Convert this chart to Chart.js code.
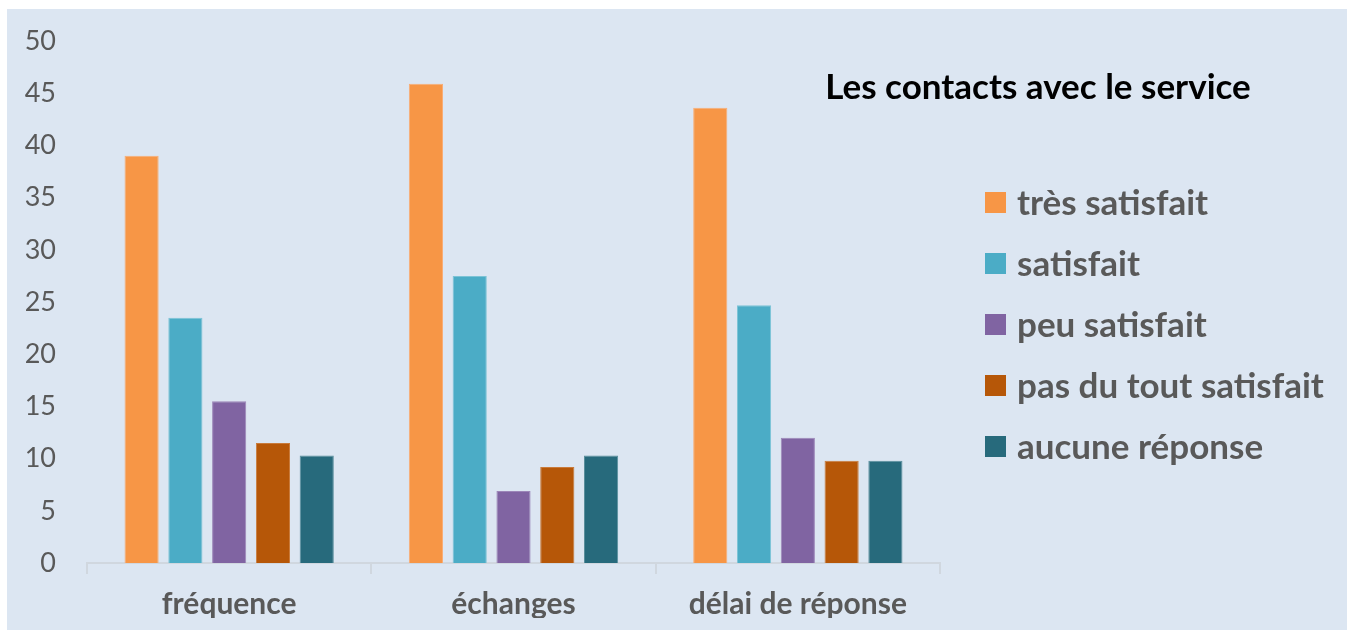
<!DOCTYPE html>
<html>
<head>
<meta charset="utf-8">
<script src="https://cdn.jsdelivr.net/npm/chart.js@4.4.0/dist/chart.umd.min.js"></script>
<style>
  html, body { margin: 0; padding: 0; background: #ffffff; }
  #panel {
    position: absolute; left: 7px; top: 9px;
    width: 1340px; height: 621px;
    background: #dce6f2;
  }
  canvas { display: block; }
</style>
</head>
<body>
<div id="panel"><canvas id="chart" width="1340" height="621"></canvas></div>
<script>
// données
const categories = ['fréquence', 'échanges', 'délai de réponse'];
const seriesNames = ['très satisfait', 'satisfait', 'peu satisfait', 'pas du tout satisfait', 'aucune réponse'];
const tresSatisfait = [39.0, 45.9, 43.6];
const satisfait = [23.5, 27.5, 24.7];
const peuSatisfait = [15.5, 6.9, 12.0];
const pasDuTout = [11.5, 9.2, 9.8];
const aucuneReponse = [10.3, 10.3, 9.8];
const yTicks = [0, 5, 10, 15, 20, 25, 30, 35, 40, 45, 50];
const chartTitle = 'Les contacts avec le service';

const colors = ['#f79646', '#4bacc6', '#8064a2', '#b65708', '#276a7c'];
const edges = ['#f9ad75', '#7cc3d6', '#9c86b8', '#c97a3a', '#5a8f9d'];
const values = [tresSatisfait, satisfait, peuSatisfait, pasDuTout, aucuneReponse];

const FONT = 'Lato, "Open Sans", sans-serif';

// titre + légende dessinés à droite
const sideLegend = {
  id: 'sideLegend',
  afterDraw(chart) {
    const ctx = chart.ctx;
    ctx.save();
    ctx.fillStyle = '#000000';
    ctx.font = 'bold 35px ' + FONT;
    ctx.textAlign = 'center';
    ctx.textBaseline = 'middle';
    ctx.fillText(chartTitle, 1031, 79);

    ctx.font = 'bold 35px ' + FONT;
    ctx.textAlign = 'left';
    chart.data.datasets.forEach((ds, i) => {
      const y = 193.5 + i * 61;
      ctx.fillStyle = ds.backgroundColor;
      ctx.fillRect(978, y - 10.5, 21, 21);
      ctx.fillStyle = '#595959';
      ctx.fillText(ds.label, 1010, y + 1);
    });
    ctx.restore();
  }
};

new Chart(document.getElementById('chart'), {
  type: 'bar',
  data: {
    labels: categories,
    datasets: seriesNames.map((name, i) => ({
      label: name,
      data: values[i],
      backgroundColor: colors[i],
      borderColor: edges[i],
      borderWidth: 1,
      categoryPercentage: 0.77,
      barPercentage: 0.78
    }))
  },
  options: {
    responsive: false,
    animation: false,
    layout: { padding: { left: 0, right: 407, top: 32, bottom: 12 } },
    plugins: {
      legend: { display: false },
      tooltip: { enabled: false }
    },
    scales: {
      x: {
        afterFit(scale) { scale.height = 55; },
        grid: {
          drawOnChartArea: false,
          drawTicks: true,
          tickLength: 11,
          color: '#d0d7df',
          lineWidth: 2
        },
        border: { display: true, color: '#d0d7df', width: 2 },
        ticks: {
          color: '#595959',
          font: { family: FONT, size: 30, weight: 'bold' },
          padding: 12
        }
      },
      y: {
        min: 0,
        max: 50,
        afterFit(scale) {
          scale.width = 80;
          scale.paddingTop = 16;
          scale.paddingBottom = 16;
        },
        afterBuildTicks(scale) { scale.ticks = yTicks.map(v => ({ value: v })); },
        grid: { display: false, drawTicks: false },
        border: { display: false },
        ticks: {
          color: '#595959',
          font: { family: FONT, size: 27 },
          padding: 31
        }
      }
    }
  },
  plugins: [sideLegend]
});
</script>
</body>
</html>
